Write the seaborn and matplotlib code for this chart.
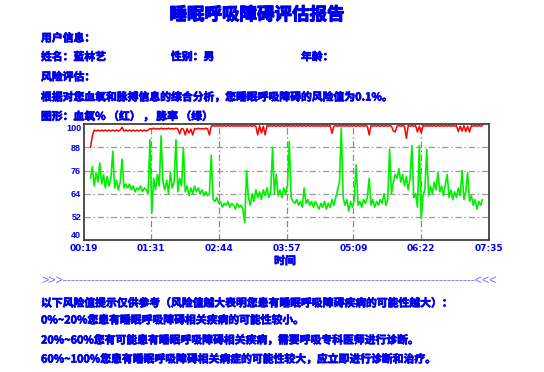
import numpy as np
import pandas as pd
import matplotlib
matplotlib.use("Agg")
import matplotlib.pyplot as plt
import matplotlib.patheffects as pe
import seaborn as sns

# ---------------- data ----------------
title = "睡眠呼吸障碍评估报告"
x_tick_labels = ["00:19", "01:31", "02:44", "03:57", "05:09", "06:22", "07:35"]
y_ticks = [40, 52, 64, 76, 88, 100]

# sampling grid of the recording (minutes since midnight), one sample every 2 minutes
t_start, t_end, t_step = 26, 448, 2

# pulse rate (green)
pulse = [
    72, 78, 68, 75, 70, 80, 69, 74, 67, 73,
    68, 72, 86, 67, 71, 66, 70, 82, 67, 69,
    67, 69, 66, 68, 65, 67, 66, 68, 65, 67,
    66, 64, 92, 54, 72, 66, 74, 68, 94, 70,
    66, 71, 64, 75, 67, 70, 92, 65, 72, 68,
    88, 65, 68, 63, 67, 64, 68, 65, 67, 64,
    66, 63, 65, 63, 64, 84, 61, 60, 62, 59,
    60, 57, 59, 58, 60, 57, 59, 58, 56, 59,
    57, 58, 56, 49, 76, 62, 58, 64, 60, 66,
    62, 65, 61, 66, 63, 67, 62, 65, 88, 64,
    74, 63, 66, 62, 67, 64, 68, 91, 62, 60,
    59, 61, 58, 60, 57, 67, 59, 61, 58, 60,
    57, 60, 58, 56, 59, 57, 60, 56, 59, 57,
    61, 58, 62, 66, 70, 98, 62, 58, 61, 55,
    60, 57, 61, 79, 58, 60, 57, 61, 59, 62,
    72, 58, 61, 57, 60, 58, 61, 59, 64, 58,
    61, 87, 64, 70, 74, 72, 77, 70, 74, 68,
    73, 66, 72, 89, 62, 64, 57, 89, 51, 63,
    66, 87, 63, 68, 64, 70, 66, 75, 65, 68,
    63, 69, 74, 62, 66, 61, 65, 62, 67, 63,
    76, 61, 65, 75, 60, 63, 58, 61, 56, 60,
    58, 61,
]

# blood oxygen saturation % (red)
spo2 = [
    88, 94, 97, 96.5, 97, 96.5, 97, 96.5, 97, 96.5,
    97, 96.5, 97, 96.5, 97, 96.5, 97, 98.5, 96.5, 97,
    96.5, 97, 96.5, 97, 96.5, 97, 96.5, 97, 96.5, 97,
    96.5, 97, 97.8, 97.5, 98, 97.5, 97.8, 97.5, 98, 97.6,
    97.8, 97.5, 98, 97.6, 97.8, 97.5, 98, 97.6, 95, 97.8,
    97.5, 94.5, 97.8, 95.5, 97.5, 94.5, 97.8, 97.5, 98, 97.6,
    97.8, 97.5, 98, 97.6, 94.5, 99, 99.3, 99, 99.3, 99,
    99.3, 99, 99.3, 99, 99.3, 99, 99.3, 99, 99.3, 99,
    99.3, 99, 99.3, 99, 99.3, 99, 99.3, 99, 99.3, 99,
    94.5, 99.3, 95.5, 99, 94.5, 99.3, 99, 99.3, 99, 99.3,
    99, 99.3, 99, 99.3, 99, 99.3, 99, 99.3, 99, 99.3,
    99, 99.3, 99, 99.3, 99, 99.3, 99, 99.3, 99, 99.3,
    99, 99.3, 99, 99.3, 99, 99.3, 99, 99.3, 99, 99.3,
    95.3, 99, 99.3, 99, 99.3, 99, 99.3, 99, 99.3, 99,
    99.3, 99, 99.3, 99, 99.3, 99, 99.3, 99, 99.3, 99,
    94.5, 99.3, 99, 99.3, 99, 99.3, 99, 99.3, 99, 99.3,
    99, 99.3, 99, 96.5, 96, 99, 99.3, 99, 99.3, 99,
    92.7, 99.3, 99, 99.3, 99, 99.3, 96, 99, 95.5, 99.3,
    99, 99.3, 99, 99.3, 99, 99.3, 99, 99.3, 99, 99.3,
    99, 99.3, 99, 99.3, 99, 99.3, 99, 99.3, 96.2, 99,
    96.5, 99.3, 96.2, 99, 96, 99.3, 99, 99.3, 99, 99.3,
    99, 99.3,
]

info_lines = [
    "用户信息：",
    "风险评估：",
    "根据对您血氧和脉搏信息的综合分析，您睡眠呼吸障碍的风险值为0.1%。",
    "图形：血氧% （红） ， 脉率 （绿）",
]
name_row = ["姓名：蓝林艺", "性别：男", "年龄："]
note_lines = [
    "以下风险值提示仅供参考（风险值越大表明您患有睡眠呼吸障碍疾病的可能性越大）：",
    "0%~20%您患有睡眠呼吸障碍相关疾病的可能性较小。",
    "20%~60%您有可能患有睡眠呼吸障碍相关疾病，需要呼吸专科医师进行诊断。",
    "60%~100%您患有睡眠呼吸障碍相关病症的可能性较大，应立即进行诊断和治疗。",
]
x_label = "时间"

# ---------------- style ----------------
sns.set_style("white")
plt.rcParams["font.family"] = ["Noto Sans CJK SC", "DejaVu Sans"]
BLUE = "#0000EE"
BOLD = [pe.withStroke(linewidth=0.5, foreground=BLUE)]
BODY = 7.8

W, H = 544, 372
fig = plt.figure(figsize=(W / 100, H / 100), dpi=100)
fig.patch.set_facecolor("white")

def px(x, y):
    return x / W, 1 - y / H

ax = fig.add_axes([84 / W, 1 - 240 / H, (489 - 84) / W, (240 - 124.3) / H])

t = np.arange(t_start, t_end + t_step / 2, t_step)
df = pd.DataFrame({"t": t, "pulse": pulse, "spo2": spo2})

sns.lineplot(data=df, x="t", y="pulse", ax=ax, color="#00F000", lw=1.2)
sns.lineplot(data=df, x="t", y="spo2", ax=ax, color="#FF0000", lw=1.1)

def to_min(s):
    h, m = s.split(":")
    return int(h) * 60 + int(m)

x_ticks = [to_min(s) for s in x_tick_labels]
ax.set_xlim(x_ticks[0], x_ticks[-1])
ax.set_ylim(40, 100)
ax.set_xticks(x_ticks)
ax.set_xticklabels(x_tick_labels, fontfamily="DejaVu Sans", fontweight="bold",
                   fontsize=6.5, color=BLUE)
ax.set_yticks(y_ticks)
ax.set_yticklabels([str(v) for v in y_ticks], fontfamily="Liberation Sans",
                   fontweight="bold", fontsize=6.5, color=BLUE)
ax.tick_params(axis="both", length=0)
ax.tick_params(axis="x", pad=3)
ax.tick_params(axis="y", pad=2)
ylabels = ax.get_yticklabels()
ylabels[0].set_va("bottom")
ylabels[-1].set_va("top")
ax.set_xlabel("")
ax.set_ylabel("")

for v in y_ticks[1:-1]:
    ax.axhline(v, color="#9a9a9a", lw=0.9, linestyle=(0, (5, 2.2, 1.2, 2.2)), zorder=0)
for v in x_ticks[1:-1]:
    ax.axvline(v, color="#8a8a8a", lw=0.9, linestyle=(0, (5, 2.2, 1.2, 2.2)), zorder=0)

for s in ax.spines.values():
    s.set_visible(True)
    s.set_color("#404040")
    s.set_linewidth(1.3)

# ---------------- texts ----------------
def body(x, y, s, **kw):
    fig.text(*px(x, y), s, ha=kw.pop("ha", "left"), va="center",
             fontsize=kw.pop("fontsize", BODY), fontweight="bold", color=BLUE,
             path_effects=BOLD, **kw)

fig.text(*px(257, 15), title, ha="center", va="center", fontsize=12.6,
         fontweight="bold", color=BLUE,
         path_effects=[pe.withStroke(linewidth=0.8, foreground=BLUE)])
body(41, 38, info_lines[0])
for xx, s in zip([41, 171, 301], name_row):
    body(xx, 57, s)
body(41, 77, info_lines[1])
body(41, 97, info_lines[2])
body(41, 116.5, info_lines[3])
body(285, 261, x_label, ha="center")
fig.text(*px(41, 281), ">>>" + "-" * 103 + "<<<", ha="left", va="center",
         fontsize=9, fontfamily="Liberation Sans", color="#6f6fff")
for yy, s in zip([303, 320, 340, 359], note_lines):
    body(41, yy, s)

fig.savefig("out.png", dpi=100, facecolor="white")
